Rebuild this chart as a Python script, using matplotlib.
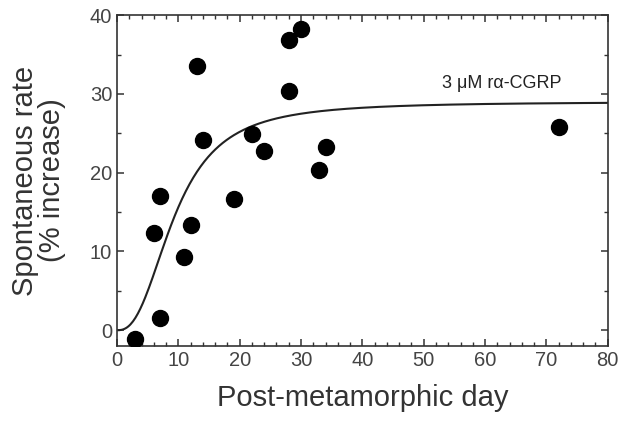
import numpy as np
import matplotlib
matplotlib.use("Agg")
import matplotlib.pyplot as plt
from matplotlib.ticker import MultipleLocator

plt.rcParams['font.family'] = ['Liberation Sans', 'DejaVu Sans']

# Data
days = [3, 6, 7, 7, 11, 12, 13, 14, 19, 22, 24, 28, 28, 30, 33, 34, 72]
rate = [-1.1, 12.4, 17.1, 1.5, 9.3, 13.4, 33.5, 24.2, 16.7, 24.9, 22.8, 36.9, 30.4, 38.2, 20.3, 23.2, 25.8]

# Hill-type fit curve parameters (estimated)
fit_ymax = 29.0
fit_k = 9.4
fit_n = 2.5
curve_label = "3 \u03bcM r\u03b1-CGRP"

fig = plt.figure(figsize=(6.3, 4.28), dpi=100)
ax = fig.add_axes([0.1857, 0.1916, 0.779, 0.773])

xs = np.linspace(0, 80, 400)
ys = fit_ymax * xs**fit_n / (fit_k**fit_n + xs**fit_n)
ax.plot(xs, ys, color='#222222', lw=1.5, zorder=2)
ax.plot(days, rate, 'o', color='black', markersize=11.5, zorder=3)

ax.text(62.8, 31.3, curve_label, fontsize=13, color='#222222', ha='center', va='center')

ax.set_xlim(0, 80)
ax.set_ylim(-2, 40)
ax.xaxis.set_major_locator(MultipleLocator(10))
ax.xaxis.set_minor_locator(MultipleLocator(2))
ax.yaxis.set_major_locator(MultipleLocator(10))
ax.yaxis.set_minor_locator(MultipleLocator(5))
ax.tick_params(which='both', direction='in', top=True, right=True, colors='#333333',
               labelsize=14.5, labelcolor='#444444')
ax.tick_params(which='major', length=5, width=1.1)
ax.tick_params(which='minor', length=3, width=1.0)
for s in ax.spines.values():
    s.set_color('#333333')
    s.set_linewidth(1.2)

ax.set_xlabel("Post-metamorphic day", fontsize=21, color='#333333', labelpad=10)
ax.set_ylabel("Spontaneous rate\n(% increase)", fontsize=21, color='#333333',
              labelpad=17, linespacing=0.95)

fig.savefig("out.png", dpi=100)
